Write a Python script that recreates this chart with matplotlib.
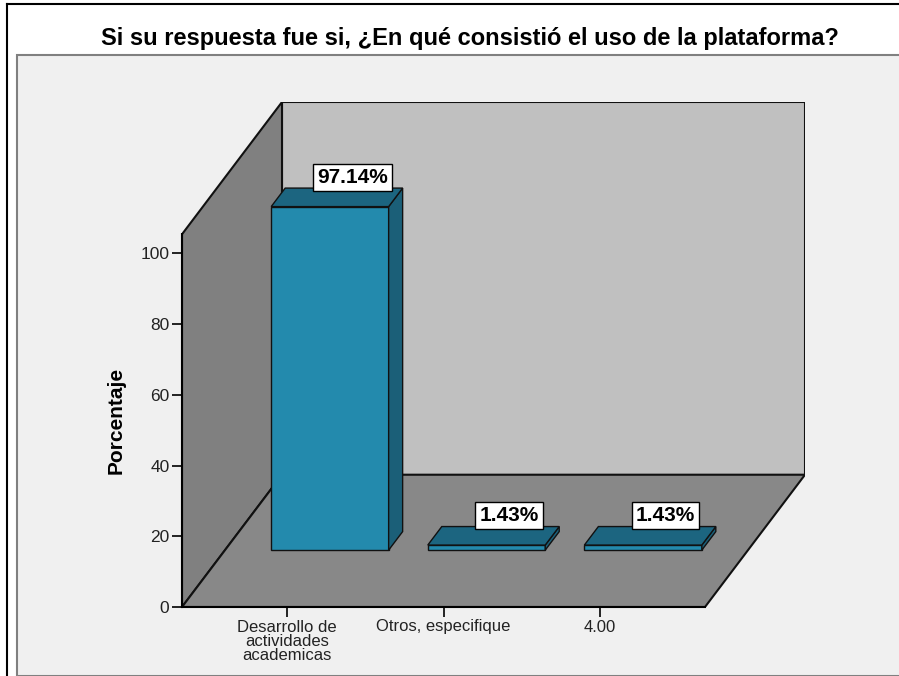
import matplotlib
matplotlib.use("Agg")
import matplotlib.pyplot as plt
from matplotlib.patches import Polygon, Rectangle
from matplotlib.lines import Line2D
from matplotlib import font_manager

# data
categorias = ["Desarrollo de\nactividades\nacademicas", "Otros, especifique", "4.00"]
porcentajes = [97.14, 1.43, 1.43]
yticks = [0, 20, 40, 60, 80, 100]

nombres = {f.name for f in font_manager.fontManager.ttflist}
fuente = "Liberation Sans Narrow" if "Liberation Sans Narrow" in nombres else "Liberation Sans"
plt.rcParams["font.family"] = [fuente, "DejaVu Sans"]

# geometria del "3D"
X0, X1 = 0.33, 3.67      # rango del eje x frontal
YTOP = 105.4             # alto de las paredes
DX, DY = 0.6386, 37.4    # desplazamiento de profundidad (en unidades de datos)
ANCHO = 0.75
Z0, Z1 = 0.43, 0.57      # profundidad de las barras

W, H = 899, 676
fig = plt.figure(figsize=(W / 100, H / 100), dpi=100, facecolor="white")

# marcos
fig.add_artist(Rectangle((17 / W, 0), 1, 1 - 55 / H, transform=fig.transFigure,
                         fc="#f0f0f0", ec="#808080", lw=1.5, zorder=0))
fig.add_artist(Line2D([7 / W, 7 / W], [0, 1 - 4 / H], transform=fig.transFigure, color="black", lw=1.5))
fig.add_artist(Line2D([7 / W, 1], [1 - 4 / H, 1 - 4 / H], transform=fig.transFigure, color="black", lw=1.5))

ax = fig.add_axes([182 / W, (H - 607) / H, (805 - 182) / W, (607 - 102) / H])
ax.set_facecolor("none")
ax.set_xlim(X0, X1 + DX)
ax.set_ylim(0, YTOP + DY)

def p(x, y, z):
    return (x + DX * z, y + DY * z)

ec = "#111111"
# pared trasera, pared izquierda, piso
ax.add_patch(Polygon([p(X0, 0, 1), p(X1, 0, 1), p(X1, YTOP, 1), p(X0, YTOP, 1)],
                     fc="#c0c0c0", ec=ec, lw=1.5, zorder=1))
ax.add_patch(Polygon([p(X0, 0, 0), p(X0, YTOP, 0), p(X0, YTOP, 1), p(X0, 0, 1)],
                     fc="#808080", ec=ec, lw=1.5, zorder=1))
ax.add_patch(Polygon([p(X0, 0, 0), p(X1, 0, 0), p(X1, 0, 1), p(X0, 0, 1)],
                     fc="#888888", ec=ec, lw=1.5, zorder=1))

for i, v in enumerate(porcentajes):
    c = i + 1
    xl, xr = c - ANCHO / 2, c + ANCHO / 2
    frente = [p(xl, 0, Z0), p(xr, 0, Z0), p(xr, v, Z0), p(xl, v, Z0)]
    arriba = [p(xl, v, Z0), p(xr, v, Z0), p(xr, v, Z1), p(xl, v, Z1)]
    lado = [p(xr, 0, Z0), p(xr, 0, Z1), p(xr, v, Z1), p(xr, v, Z0)]
    ax.add_patch(Polygon(frente, fc="#238aad", ec=ec, lw=1, zorder=3))
    ax.add_patch(Polygon(lado, fc="#1b5f78", ec=ec, lw=1, zorder=3))
    ax.add_patch(Polygon(arriba, fc="#1c6580", ec=ec, lw=1, zorder=3))
    ax.annotate(f"{v:.2f}%", xy=p(c, v, Z1), xytext=(6, 1), textcoords="offset points",
                ha="center", va="bottom", fontsize=15, fontweight="bold", zorder=5,
                bbox=dict(boxstyle="square,pad=0.2", fc="white", ec="black", lw=1))

for s in ["top", "right"]:
    ax.spines[s].set_visible(False)
ax.spines["left"].set_bounds(0, YTOP)
ax.spines["bottom"].set_bounds(X0, X1)
for s in ["left", "bottom"]:
    ax.spines[s].set_linewidth(1.5)
    ax.spines[s].set_zorder(4)

ax.set_yticks(yticks)
ax.set_yticklabels([str(t) for t in yticks])
ax.set_xticks(range(1, len(categorias) + 1))
ax.set_xticklabels(categorias, linespacing=0.95)
ax.tick_params(axis="y", length=7, width=1.2, labelsize=12.5, pad=2, colors="black", labelcolor="#222222")
ax.tick_params(axis="x", length=7, width=1.2, labelsize=12, pad=2, colors="black", labelcolor="#222222")

ax.set_ylabel("Porcentaje", fontsize=15, fontweight="bold")
ax.yaxis.set_label_coords(-0.09, YTOP / 2 / (YTOP + DY))

fig.text(470 / W, 1 - 38 / H, "Si su respuesta fue si, ¿En qué consistió el uso de la plataforma?",
         ha="center", va="center", fontsize=17, fontweight="bold")

fig.savefig("out.png", dpi=100, facecolor="white")
